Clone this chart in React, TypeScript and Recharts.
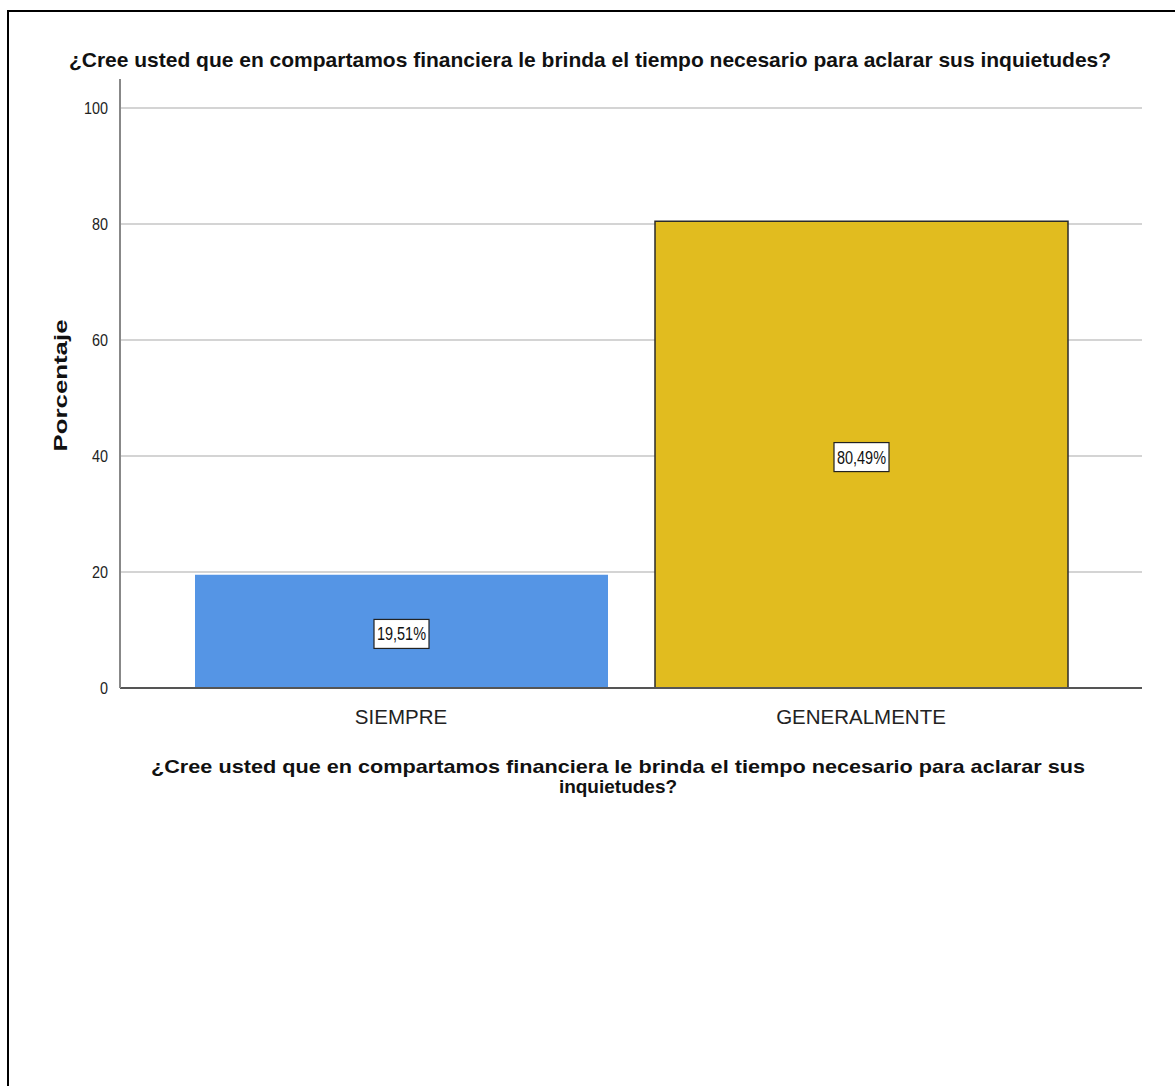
import { Bar, BarChart, CartesianGrid, Cell, LabelList, XAxis, YAxis } from "recharts";

const categories = ["SIEMPRE", "GENERALMENTE"];
const percentages = [19.51, 80.49];
const barColors = ["#5595E5", "#E1BC1F"];
const barStrokes = ["none", "#2b2b2b"];
const yTicks = [0, 20, 40, 60, 80, 100];

const title = "¿Cree usted que en compartamos financiera le brinda el tiempo necesario para aclarar sus inquietudes?";
const xTitleLines = [
  "¿Cree usted que en compartamos financiera le brinda el tiempo necesario para aclarar sus",
  "inquietudes?",
];
const yTitle = "Porcentaje";

const data = categories.map((category, i) => ({ category, value: percentages[i] }));

const FONT = "'Liberation Sans', Arial, sans-serif";

function ValueBox(props: any) {
  const { x, y, width, height, value } = props;
  const cx = x + width / 2;
  const cy = y + height / 2 + 2.5;
  const text = value.toFixed(2).replace(".", ",") + "%";
  const w = 55;
  const h = 29;
  return (
    <g>
      <rect x={cx - w / 2} y={cy - h / 2} width={w} height={h} fill="#fff" stroke="#222" strokeWidth={1.2} />
      <text
        x={cx}
        y={cy + 6.5}
        textAnchor="middle"
        fontSize={18}
        fontFamily={FONT}
        fill="#111"
        textLength={49}
        lengthAdjust="spacingAndGlyphs"
      >
        {text}
      </text>
    </g>
  );
}

function YTick(props: any) {
  const { x, y, payload } = props;
  const label = String(payload.value);
  return (
    <text
      x={x - 4}
      y={y + 6}
      textAnchor="end"
      fontSize={17}
      fontFamily={FONT}
      fill="#222"
      textLength={label.length * 8}
      lengthAdjust="spacingAndGlyphs"
    >
      {label}
    </text>
  );
}

function YTitle(props: any) {
  const { viewBox } = props;
  const cy = viewBox.y + viewBox.height / 2 + 2;
  const x = 67;
  return (
    <text
      x={x}
      y={cy}
      transform={`rotate(-90 ${x} ${cy})`}
      textAnchor="middle"
      fontSize={19}
      fontWeight="bold"
      fontFamily={FONT}
      fill="#111"
      textLength={132}
      lengthAdjust="spacingAndGlyphs"
    >
      {yTitle}
    </text>
  );
}

function XTitle(props: any) {
  const { viewBox } = props;
  const cx = viewBox.x + viewBox.width / 2 - 13;
  return (
    <g fontSize={19} fontWeight="bold" fontFamily={FONT} fill="#111">
      <text x={cx} y={773} textAnchor="middle" textLength={934} lengthAdjust="spacingAndGlyphs">
        {xTitleLines[0]}
      </text>
      <text x={cx} y={793} textAnchor="middle">
        {xTitleLines[1]}
      </text>
    </g>
  );
}

export default function App() {
  return (
    <div style={{ position: "fixed", left: 0, top: 0, width: 1175, height: 1086, background: "#fff" }}>
      <div
        style={{
          position: "absolute",
          left: 7,
          top: 10,
          width: 1175,
          height: 1086,
          borderTop: "2px solid #000",
          borderLeft: "2px solid #000",
        }}
      />
      <svg width={1175} height={100} style={{ position: "absolute", left: 0, top: 0 }}>
        <text x={590} y={67} textAnchor="middle" fontSize={21} fontWeight="bold" fontFamily={FONT} fill="#111">
          {title}
        </text>
      </svg>
      <BarChart
        width={1175}
        height={1086}
        data={data}
        margin={{ top: 79, right: 33, bottom: 0, left: 0 }}
        style={{ position: "absolute", left: 0, top: 0 }}
      >
        <CartesianGrid vertical={false} horizontalValues={yTicks.slice(1)} stroke="#d4d4d4" strokeWidth={2} />
        <XAxis
          dataKey="category"
          height={398}
          padding={{ left: 51, right: 51 }}
          tickLine={false}
          tickMargin={15}
          axisLine={{ stroke: "#555", strokeWidth: 2 }}
          tick={{ fontSize: 20.5, fontFamily: FONT, fill: "#222" }}
          label={<XTitle />}
        />
        <YAxis
          width={120}
          domain={[0, 105]}
          ticks={yTicks}
          tickLine={false}
          axisLine={{ stroke: "#888", strokeWidth: 2 }}
          tick={<YTick />}
          label={<YTitle />}
        />
        <Bar dataKey="value" barSize={413} isAnimationActive={false}>
          {data.map((d, i) => (
            <Cell key={d.category} fill={barColors[i]} stroke={barStrokes[i]} strokeWidth={1.5} />
          ))}
          <LabelList dataKey="value" content={<ValueBox />} />
        </Bar>
      </BarChart>
    </div>
  );
}
